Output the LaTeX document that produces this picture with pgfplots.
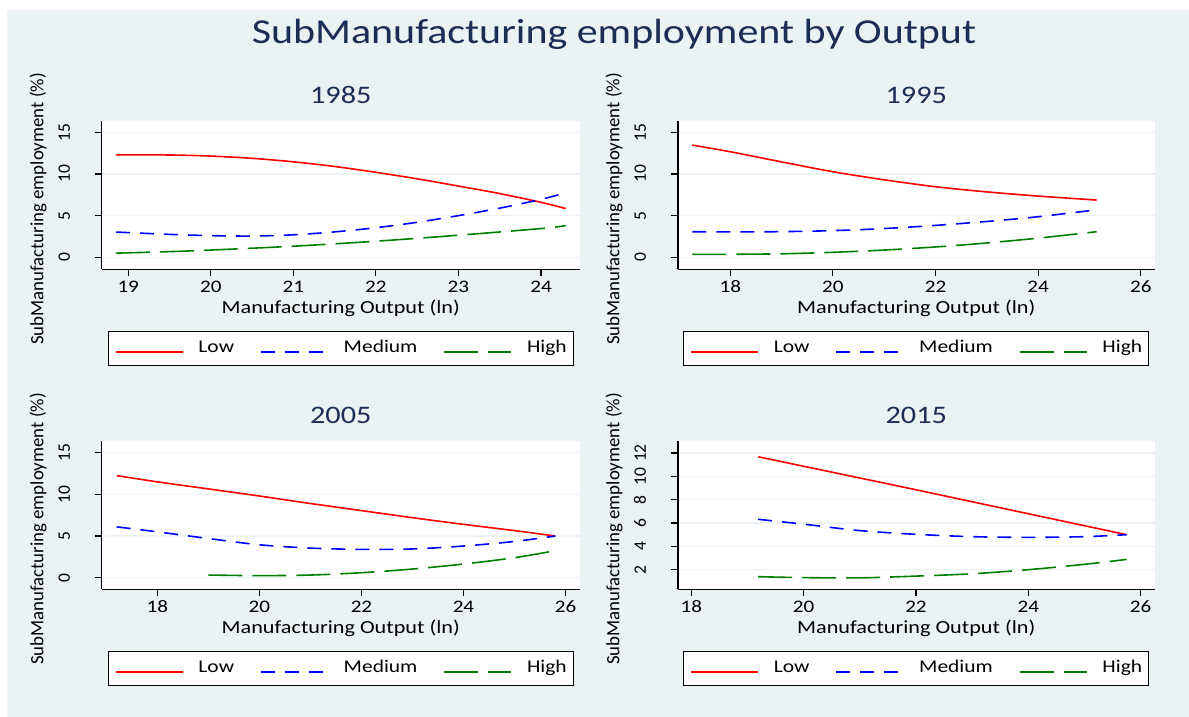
\documentclass[border=0pt]{standalone}
\usepackage{fontspec}
\setmainfont{Carlito}[FakeStretch=1.2]
\newfontfamily\rotfont{Carlito}
\usepackage{pgfplots}
\pgfplotsset{compat=1.18}
\definecolor{bgc}{RGB}{234,242,243}
\definecolor{navy}{RGB}{28,45,85}
\definecolor{sred}{RGB}{255,0,0}
\definecolor{sblue}{RGB}{0,0,255}
\definecolor{sgreen}{RGB}{0,128,0}
\pgfplotsset{
  panel/.style={
    scale only axis,
    axis x line*=bottom, axis y line*=left,
    axis line style={-, line width=1.2pt, black},
    axis background/.style={fill=white},
    tick align=outside,
    major tick length=7pt,
    tick style={line width=1.2pt, black},
    ymajorgrids,
    grid style={line width=1.5pt, bgc},
    /pgf/number format/assume math mode=true,
    xticklabel style={font=\fontsize{17.6}{20}\selectfont, anchor=base, yshift=-16pt},
    yticklabel style={font=\rotfont\fontsize{17.5}{19}\selectfont, xshift=-25pt, rotate=90, anchor=base},
    legend columns=3,
    legend style={anchor=north, fill=white, draw=black, line width=1pt,
      font=\fontsize{17.9}{20}\selectfont, inner xsep=6.5pt, inner ysep=9pt,
      nodes={inner sep=0pt, text height=12pt, text depth=4pt, anchor=base west},
      /tikz/every odd column/.append style={column sep=15pt},
      /tikz/every even column/.append style={column sep=26pt}},
    legend image code/.code={\draw[##1] (0pt,0pt) -- (67pt,0pt);},
  },
  lowst/.style={sred, line width=1.6pt, solid},
  medst/.style={sblue, line width=1.6pt, dash pattern=on 14pt off 10pt},
  highst/.style={sgreen, line width=1.6pt, dash pattern=on 34pt off 10pt},
}
\newcommand{\yearfont}{\fontsize{25.2}{28}\selectfont}
\newcommand{\xlabfont}{\fontsize{18.5}{21}\selectfont}
\newcommand{\ylabfont}{\rotfont\fontsize{18.8}{21}\selectfont}
\begin{document}
\begin{tikzpicture}
\fill[white] (0pt,0pt) rectangle (1189pt,717pt);
\fill[bgc] (7pt,0pt) rectangle (1189pt,707pt);
\useasboundingbox (0pt,0pt) rectangle (1189pt,717pt);

% ---------- 1985 ----------
\begin{axis}[panel, at={(101.8pt,447.7pt)}, anchor=south west, width=478pt, height=148.3pt,
  xmin=18.68, xmax=24.47, ymin=-1.44, ymax=16.36,
  xtick={19,20,21,22,23,24}, ytick={0,5,10,15},
  legend style={at={(0.5,-0.414)}}]
\addplot[lowst, smooth] coordinates {(18.85,12.3) (19.5,12.28) (20,12.15) (20.5,11.88) (21,11.46) (21.5,10.9) (22,10.2) (22.5,9.42) (23,8.55) (23.5,7.65) (24,6.6) (24.3,5.85)};
\addplot[medst, smooth] coordinates {(18.85,3.03) (19.5,2.75) (20,2.6) (20.5,2.55) (21,2.7) (21.5,3.05) (22,3.55) (22.5,4.2) (23,5.0) (23.5,5.9) (24,6.95) (24.3,7.75)};
\addplot[highst, smooth] coordinates {(18.85,0.5) (19.5,0.68) (20,0.87) (21,1.33) (22,1.93) (23,2.65) (24,3.45) (24.3,3.8)};
\legend{Low,Medium,High}
\end{axis}

% ---------- 1995 ----------
\begin{axis}[panel, at={(677.9pt,447.7pt)}, anchor=south west, width=476.7pt, height=148.3pt,
  xmin=16.98, xmax=26.27, ymin=-1.44, ymax=16.36,
  xtick={18,20,22,24,26}, ytick={0,5,10,15},
  legend style={at={(0.5,-0.414)}}]
\addplot[lowst, smooth] coordinates {(17.26,13.47) (18,12.67) (19,11.45) (20,10.27) (21,9.3) (22,8.47) (23,7.85) (24,7.35) (25.14,6.87)};
\addplot[medst, smooth] coordinates {(17.26,3.07) (18,3.05) (19,3.08) (20,3.2) (21,3.45) (22,3.83) (23,4.3) (24,4.87) (25.14,5.7)};
\addplot[highst, smooth] coordinates {(17.26,0.36) (18,0.36) (19,0.42) (20,0.6) (21,0.87) (22,1.24) (23,1.72) (24,2.3) (25.14,3.07)};
\legend{Low,Medium,High}
\end{axis}

% ---------- 2005 ----------
\begin{axis}[panel, at={(101.8pt,127.7pt)}, anchor=south west, width=478pt, height=148.3pt,
  xmin=16.91, xmax=26.28, ymin=-1.39, ymax=16.40,
  xtick={18,20,22,24,26}, ytick={0,5,10,15},
  legend style={at={(0.5,-0.414)}}]
\addplot[lowst, smooth] coordinates {(17.2,12.25) (18,11.5) (19,10.65) (20,9.8) (21,8.9) (22,8.05) (23,7.2) (24,6.4) (25,5.65) (25.8,5.0)};
\addplot[medst, smooth] coordinates {(17.2,6.1) (18,5.5) (19,4.7) (20,3.95) (21,3.55) (22,3.4) (23,3.45) (24,3.8) (25,4.35) (25.8,5.0)};
\addplot[highst, smooth] coordinates {(19,0.32) (20,0.25) (21,0.32) (22,0.6) (23,1.04) (24,1.64) (25,2.4) (25.8,3.24)};
\legend{Low,Medium,High}
\end{axis}

% ---------- 2015 ----------
\begin{axis}[panel, at={(677.9pt,127.7pt)}, anchor=south west, width=476.7pt, height=148.3pt,
  xmin=17.76, xmax=26.25, ymin=0.32, ymax=13.03,
  xtick={18,20,22,24,26}, ytick={2,4,6,8,10,12},
  legend style={at={(0.5,-0.414)}}]
\addplot[lowst] coordinates {(19.19,11.68) (22,8.85) (25.75,5.0)};
\addplot[medst, smooth] coordinates {(19.19,6.32) (20,5.9) (21,5.35) (22,5.03) (23,4.83) (24,4.77) (25,4.83) (25.75,5.0)};
\addplot[highst, smooth] coordinates {(19.19,1.4) (20,1.32) (21,1.3) (22,1.45) (23,1.65) (24,2.0) (25,2.46) (25.75,2.88)};
\legend{Low,Medium,High}
\end{axis}

% titles and axis labels
\node[anchor=base, text=navy, font=\fontsize{35}{40}\selectfont] at (614pt,673.7pt) {SubManufacturing employment by Output};
\node[anchor=base, text=navy, font=\yearfont] at (340.8pt,613.7pt) {1985};
\node[anchor=base, text=navy, font=\yearfont] at (916.3pt,613.7pt) {1995};
\node[anchor=base, text=navy, font=\yearfont] at (340.8pt,293.7pt) {2005};
\node[anchor=base, text=navy, font=\yearfont] at (916.3pt,293.7pt) {2015};
\node[anchor=base, font=\xlabfont] at (340.8pt,403.7pt) {Manufacturing Output (ln)};
\node[anchor=base, font=\xlabfont] at (916.3pt,403.7pt) {Manufacturing Output (ln)};
\node[anchor=base, font=\xlabfont] at (340.8pt,83.7pt) {Manufacturing Output (ln)};
\node[anchor=base, font=\xlabfont] at (916.3pt,83.7pt) {Manufacturing Output (ln)};
\node[anchor=base, rotate=90, font=\ylabfont] at (43.3pt,508pt) {SubManufacturing employment (\%)};
\node[anchor=base, rotate=90, font=\ylabfont] at (619.4pt,508pt) {SubManufacturing employment (\%)};
\node[anchor=base, rotate=90, font=\ylabfont] at (43.3pt,188pt) {SubManufacturing employment (\%)};
\node[anchor=base, rotate=90, font=\ylabfont] at (619.4pt,188pt) {SubManufacturing employment (\%)};
\end{tikzpicture}
\end{document}
